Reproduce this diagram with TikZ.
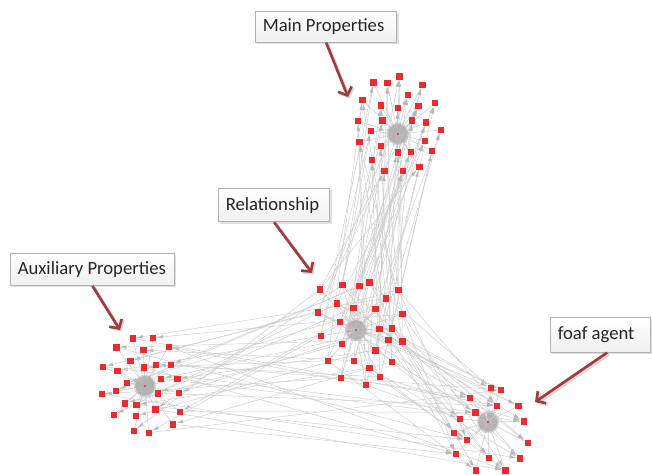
\documentclass[tikz,border=0pt]{standalone}
\usepackage{fontspec}
\setmainfont{Carlito}
\usetikzlibrary{arrows.meta,shadows}
\pgfdeclarelayer{edges}
\pgfsetlayers{edges,main}
\definecolor{sqred}{HTML}{EE2A2F}
\definecolor{arrred}{HTML}{A23B3B}
\newcommand{\lbltext}[2]{\makebox[#1][l]{#2}}
\begin{document}
\begin{tikzpicture}[x=0.75pt,y=-0.75pt,
  sq/.style={rectangle,fill=sqred,draw=none,minimum size=4.8pt,inner sep=0pt},
  ctr/.style={circle,fill=gray!60,fill opacity=0.45,draw=none,minimum size=17pt,inner sep=0pt,
    path picture={\fill[sqred,fill opacity=1] (path picture bounding box.center) circle (0.8pt);}},
  link/.style={draw=black!20,line width=0.35pt,-{Latex[length=5pt,width=2.6pt,fill=black!28,color=black!28]}},
  spoke/.style={draw=black!22,line width=0.35pt,-{Latex[length=7pt,width=3.5pt,fill=black!30,color=black!30]}},
  lbl/.style={draw=gray!60,line width=0.7pt,top color=white,bottom color=gray!12,
    drop shadow={opacity=0.25,shadow xshift=1.5pt,shadow yshift=-1.5pt},
    font=\fontsize{14}{16}\selectfont,text=black!85,inner xsep=5.5pt,inner ysep=0pt,anchor=north west},
  callout/.style={draw=arrred,line width=2pt,-{Straight Barb[length=5pt,width=11pt]}},
  calloutsh/.style={draw=black,opacity=0.15,line width=2.4pt,-{Straight Barb[length=5pt,width=11pt]},
    transform canvas={shift={(1.2pt,-1.2pt)}}}
]
\useasboundingbox (0,0) rectangle (652,474);

% cluster centres
\node[ctr] (mc) at (397.7,134) {};
\node[ctr] (rc) at (356,330) {};
\node[ctr] (ac) at (145,386) {};
\node[ctr] (fc) at (488,422) {};

% Main Properties cluster
\foreach \n/\x/\y in {1/399.3/76.7,2/373.3/82.7,3/387.3/83.3,4/422.3/85,5/407.7/95,6/362.3/100,
  7/380.7/105.7,8/397.7/108.3,9/418.3/106,10/435/103.3,11/358/121,12/382.3/120.7,13/412/120.7,
  14/425.7/122.7,15/370.7/131,16/440.7/130,17/359.3/141.7,18/380.7/146,19/424.7/141,20/397.7/152.3,
  21/410.7/151.7,22/432/151,23/371.7/160,24/384.3/171,25/402.7/171,26/419.3/166.7}
  \node[sq] (m\n) at (\x,\y) {};

% Relationship cluster
\foreach \n/\x/\y in {1/320/289.3,2/342.3/285,3/359.3/286,4/369.3/282.3,5/398.3/290,6/386/298.3,
  7/336.7/303.3,8/353.3/307.7,9/375.3/309,10/317.7/312.3,11/402.3/314,12/340/322,13/379.3/329,
  14/391.7/328.3,15/320.7/336,16/388.3/339.7,17/402.3/341.3,18/341.7/344,19/375.3/350.3,
  20/327.7/360.7,21/354/360.7,22/391.7/361.7,23/369.3/368,24/341/377.7,25/380/377,26/365.7/385}
  \node[sq] (r\n) at (\x,\y) {};

% Auxiliary Properties cluster
\foreach \n/\x/\y in {1/132.7/338.3,2/153/337.7,3/116.3/347.3,4/143.3/350,5/168.7/346.7,6/130.3/360.7,
  7/103/366.7,8/117.3/370.7,9/144/367.3,10/155.7/364.7,11/171/364.7,12/126.7/382.7,13/161/378.7,
  14/177.3/378.7,15/101.7/394,16/115.7/390.7,17/157.7/393.3,18/179/392.7,19/125/403.3,20/136.3/404.7,
  21/155.3/409.3,22/113.7/415,23/180/411.7,24/136/416,25/173/424.3,26/134/430.7,27/148.7/432.7}
  \node[sq] (a\n) at (\x,\y) {};

% foaf agent cluster
\foreach \n/\x/\y in {1/490.7/387.7,2/500.7/390,3/470/397.7,4/497/405.7,5/518.3/405.7,6/475.3/412.3,
  7/460/418.7,8/523.7/421.3,9/453.7/432.7,10/467/439.7,11/527.7/442.7,12/456/454,13/488.7/457.7,
  14/519.7/458.3,15/475.7/470.3,16/505.3/470.3}
  \node[sq] (f\n) at (\x,\y) {};

\begin{pgfonlayer}{edges}
  % spokes
  \foreach \i in {1,...,26} {\draw[spoke] (m\i) -- (mc.center); \draw[spoke] (r\i) -- (rc.center);}
  \foreach \i in {1,...,27} {\draw[spoke] (a\i) -- (ac.center);}
  \foreach \i in {1,...,16} {\draw[spoke] (f\i) -- (fc.center);}
  % relationship -> main
  \foreach \i in {1,...,26} {
    \pgfmathtruncatemacro\j{mod(\i*7,26)+1}
    \pgfmathtruncatemacro\k{mod(\i*11+5,26)+1}
    \draw[link] (r\j) -- (m\i);
    \draw[link] (r\k) -- (m\i);
  }
  % relationship -> auxiliary
  \foreach \i in {1,...,27} {
    \pgfmathtruncatemacro\j{mod(\i*5,26)+1}
    \draw[link] (r\j) -- (a\i);
  }
  % auxiliary -> foaf
  \foreach \i in {1,3,...,27} {
    \pgfmathtruncatemacro\j{mod(\i*3,16)+1}
    \draw[link] (a\i) -- (f\j);
  }
  % relationship -> foaf
  \foreach \i in {1,...,16} {
    \pgfmathtruncatemacro\j{mod(\i*3,26)+1}
    \pgfmathtruncatemacro\k{mod(\i*7+2,26)+1}
    \draw[link] (r\j) -- (f\i);
    \draw[link] (r\k) -- (f\i);
  }
\end{pgfonlayer}

% labels
\node[lbl,minimum height=23pt] (mainlbl) at (255,11) {\lbltext{95pt}{Main Properties}};
\node[lbl,minimum height=25pt] (rellbl) at (218,188) {\lbltext{72.5pt}{Relationship}};
\node[lbl,minimum height=24pt] (auxlbl) at (10,253) {\lbltext{112pt}{Auxiliary Properties}};
\node[lbl,minimum height=26pt] (foaflbl) at (550,317) {\lbltext{64pt}{foaf agent}};

\coordinate (mainend) at (348,97);
\coordinate (relend) at (312,273);
\coordinate (auxend) at (120,330);
\coordinate (foafend) at (535,402);

\draw[calloutsh] (mainlbl.south) -- (mainend);
\draw[calloutsh] (rellbl.south) -- (relend);
\draw[calloutsh] (auxlbl.south) -- (auxend);
\draw[calloutsh] ([xshift=5pt]foaflbl.south) -- (foafend);
\draw[callout] (mainlbl.south) -- (mainend);
\draw[callout] (rellbl.south) -- (relend);
\draw[callout] (auxlbl.south) -- (auxend);
\draw[callout] ([xshift=5pt]foaflbl.south) -- (foafend);
\end{tikzpicture}
\end{document}
